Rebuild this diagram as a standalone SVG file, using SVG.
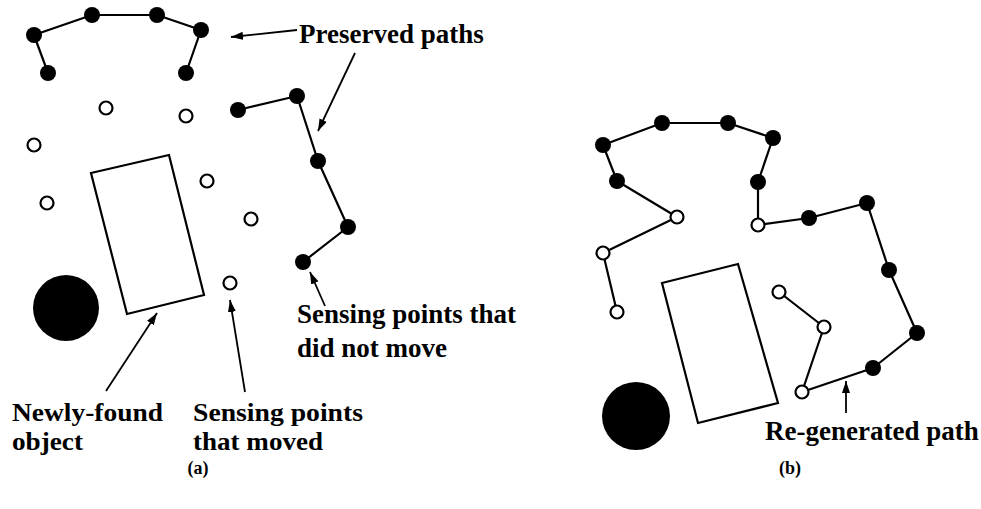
<svg xmlns="http://www.w3.org/2000/svg" width="981" height="509" viewBox="0 0 981 509">
  <style>
    .edge { fill: none; stroke: #000; stroke-width: 2.2; stroke-linejoin: round; }
    .lead { fill: none; stroke: #000; stroke-width: 1.8; }
    .fix { fill: #000; }
    .moved { fill: #fff; stroke: #000; stroke-width: 2.2; }
    .obstacle { fill: #fff; stroke: #000; stroke-width: 2.2; }
    .blob { fill: #000; }
    .lbl { font-family: "Liberation Serif", "Times New Roman", serif; font-weight: bold; font-size: 27px; fill: #000; }
    .lbl2 { font-family: "Liberation Serif", "Times New Roman", serif; font-weight: bold; font-size: 25.5px; fill: #000; }
    .cap { font-family: "Liberation Serif", "Times New Roman", serif; font-weight: bold; font-size: 18px; fill: #000; }
  </style>
  <defs>
    <marker id="head" viewBox="0 0 12 8" refX="12" refY="4" markerWidth="12" markerHeight="8" markerUnits="userSpaceOnUse" orient="auto">
      <path d="M0,0 L12,4 L0,8 z" fill="#000"/>
    </marker>
  </defs>
  <rect width="981" height="509" fill="#fff"/>

  <!-- ===== panel (a) ===== -->
  <g id="a-object">
    <polygon class="obstacle" points="91,173 169,155 204,295 127,314"/>
    <circle class="blob" cx="66" cy="308" r="33"/>
  </g>

  <g id="a-connectors">
    <polyline class="edge" points="48,73 34,35 92,15 157,15 201,30 186,73"/>
    <polyline class="edge" points="238,110 297,96 318,161 348,227 303,262"/>
    <line class="lead" x1="297" y1="30" x2="231" y2="37" marker-end="url(#head)"/>
    <line class="lead" x1="355" y1="53" x2="318" y2="131" marker-end="url(#head)"/>
    <line class="lead" x1="325" y1="306" x2="310" y2="272" marker-end="url(#head)"/>
    <line class="lead" x1="106" y1="391" x2="157" y2="313" marker-end="url(#head)"/>
    <line class="lead" x1="245" y1="392" x2="230" y2="300" marker-end="url(#head)"/>
  </g>

  <g id="a-p1"><circle class="fix" cx="48" cy="73" r="8"/></g>
  <g id="a-p2"><circle class="fix" cx="34" cy="35" r="8"/></g>
  <g id="a-p3"><circle class="fix" cx="92" cy="15" r="8"/></g>
  <g id="a-p4"><circle class="fix" cx="157" cy="15" r="8"/></g>
  <g id="a-p5"><circle class="fix" cx="201" cy="30" r="8"/></g>
  <g id="a-p6"><circle class="fix" cx="186" cy="73" r="8"/></g>
  <g id="a-q1"><circle class="fix" cx="238" cy="110" r="8"/></g>
  <g id="a-q2"><circle class="fix" cx="297" cy="96" r="8"/></g>
  <g id="a-q3"><circle class="fix" cx="318" cy="161" r="8"/></g>
  <g id="a-q4"><circle class="fix" cx="348" cy="227" r="8"/></g>
  <g id="a-q5"><circle class="fix" cx="303" cy="262" r="8"/></g>
  <g id="a-m1"><circle class="moved" cx="106" cy="108" r="6.5"/></g>
  <g id="a-m2"><circle class="moved" cx="186" cy="116" r="6.5"/></g>
  <g id="a-m3"><circle class="moved" cx="34" cy="145" r="6.5"/></g>
  <g id="a-m4"><circle class="moved" cx="207" cy="181" r="6.5"/></g>
  <g id="a-m5"><circle class="moved" cx="47" cy="203" r="6.5"/></g>
  <g id="a-m6"><circle class="moved" cx="251" cy="219" r="6.5"/></g>
  <g id="a-m7"><circle class="moved" cx="230" cy="283" r="6.5"/></g>

  <g id="a-labels">
    <text class="lbl" x="299" y="43">Preserved paths</text>
    <text class="lbl" x="297" y="323">Sensing points that</text>
    <text class="lbl" x="297" y="357">did not move</text>
    <text class="lbl2" x="12" y="421" textLength="151" lengthAdjust="spacingAndGlyphs">Newly-found</text>
    <text class="lbl2" x="12" y="450" textLength="71" lengthAdjust="spacingAndGlyphs">object</text>
    <text class="lbl2" x="193" y="421" textLength="170" lengthAdjust="spacingAndGlyphs">Sensing points</text>
    <text class="lbl2" x="193" y="450" textLength="130" lengthAdjust="spacingAndGlyphs">that moved</text>
    <text class="cap" x="198" y="474" text-anchor="middle">(a)</text>
  </g>

  <!-- ===== panel (b) ===== -->
  <g id="b-object">
    <polygon class="obstacle" points="662,283 738,264 778,403 698,423"/>
    <circle class="blob" cx="636" cy="416" r="34"/>
  </g>

  <g id="b-connectors">
    <polyline class="edge" points="617,312 603,253 677,217 617,181 603,145 662,123 728,123 773,138 758,182 758,225 809,218 867,203 889,270 917,333 873,368 802,392 824,327 779,292"/>
    <line class="lead" x1="846" y1="413" x2="846" y2="381" marker-end="url(#head)"/>
  </g>

  <g id="b-p1"><circle class="fix" cx="603" cy="145" r="8"/></g>
  <g id="b-p2"><circle class="fix" cx="662" cy="123" r="8"/></g>
  <g id="b-p3"><circle class="fix" cx="728" cy="123" r="8"/></g>
  <g id="b-p4"><circle class="fix" cx="773" cy="138" r="8"/></g>
  <g id="b-p5"><circle class="fix" cx="617" cy="181" r="8"/></g>
  <g id="b-p6"><circle class="fix" cx="758" cy="182" r="8"/></g>
  <g id="b-p7"><circle class="fix" cx="809" cy="218" r="8"/></g>
  <g id="b-p8"><circle class="fix" cx="867" cy="203" r="8"/></g>
  <g id="b-p9"><circle class="fix" cx="889" cy="270" r="8"/></g>
  <g id="b-p10"><circle class="fix" cx="917" cy="333" r="8"/></g>
  <g id="b-p11"><circle class="fix" cx="873" cy="368" r="8"/></g>
  <g id="b-m1"><circle class="moved" cx="677" cy="217" r="6.5"/></g>
  <g id="b-m2"><circle class="moved" cx="758" cy="225" r="6.5"/></g>
  <g id="b-m3"><circle class="moved" cx="603" cy="253" r="6.5"/></g>
  <g id="b-m4"><circle class="moved" cx="617" cy="312" r="6.5"/></g>
  <g id="b-m5"><circle class="moved" cx="779" cy="292" r="6.5"/></g>
  <g id="b-m6"><circle class="moved" cx="824" cy="327" r="6.5"/></g>
  <g id="b-m7"><circle class="moved" cx="802" cy="392" r="6.5"/></g>

  <g id="b-labels">
    <text class="lbl" x="765" y="440">Re-generated path</text>
    <text class="cap" x="790" y="474" text-anchor="middle">(b)</text>
  </g>
</svg>
